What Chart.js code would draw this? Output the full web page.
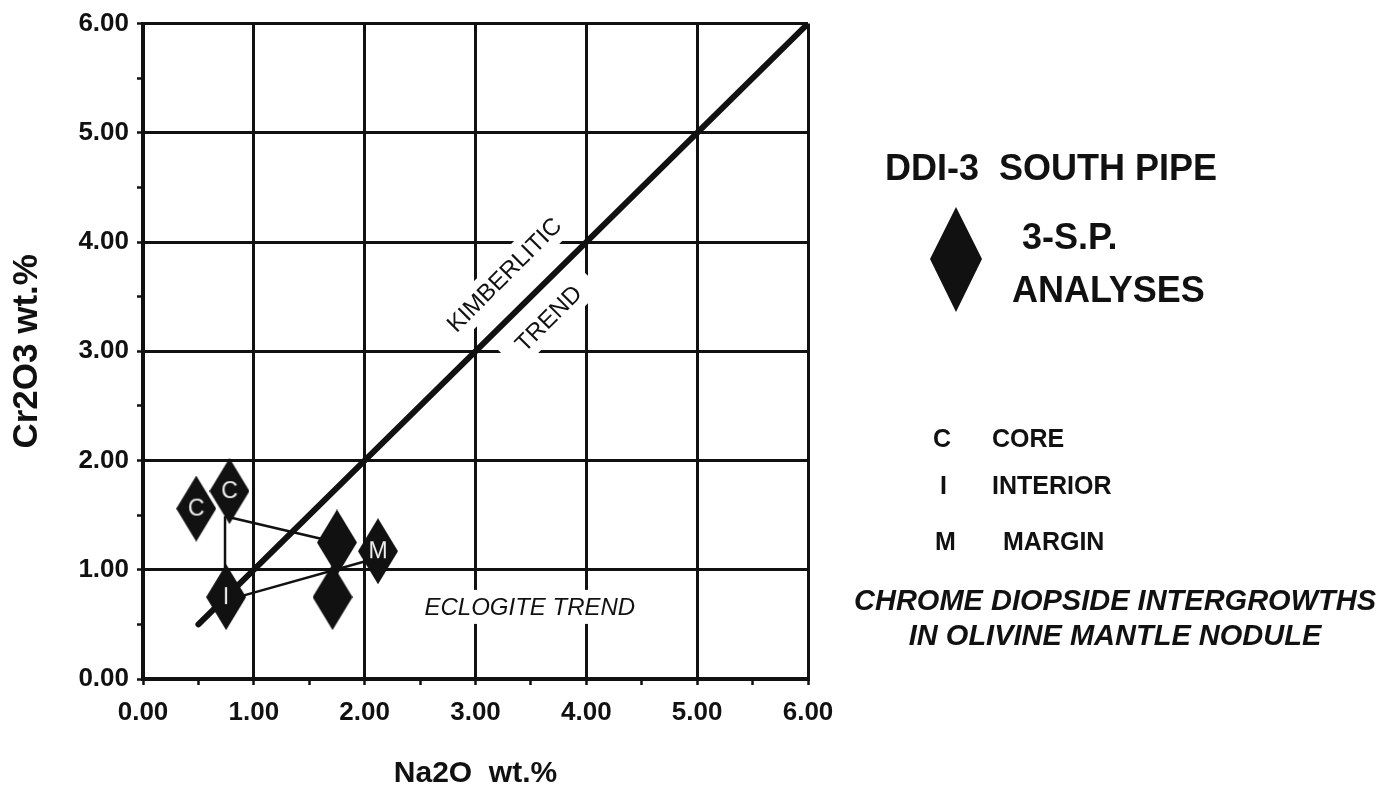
<!DOCTYPE html>
<html><head><meta charset="utf-8">
<script src="https://cdn.jsdelivr.net/npm/chart.js@4.4.1/dist/chart.umd.min.js"></script>
<style>html,body{margin:0;padding:0;background:#fff;}#wrap{width:1398px;height:786px;position:relative;background:#fff}</style>
</head><body><div id="wrap"><canvas id="c" width="1398" height="786"></canvas></div>
<script>
// ---- data ----
const na2o  = [0.48, 0.78, 0.75, 1.75, 2.12, 1.71];
const cr2o3 = [1.56, 1.72, 0.75, 1.25, 1.17, 0.75];
const pointLabels = ['C', 'C', 'I', '', 'M', ''];

const trendX = [0.5, 6.0];
const trendY = [0.5, 6.0];

const tieCIx = [0.74, 0.74];  const tieCIy = [1.49, 0.75];
const tieCBx = [0.74, 1.75];  const tieCBy = [1.49, 1.25];
const tieIMx = [0.75, 2.12];  const tieIMy = [0.72, 1.11];

const xTickLabels = ['0.00','1.00','2.00','3.00','4.00','5.00','6.00'];
const yTickLabels = ['0.00','1.00','2.00','3.00','4.00','5.00','6.00'];

const FONT = '"Liberation Sans", Arial, Helvetica, sans-serif';
const INK = '#111';

function pts(xs, ys){ return xs.map((x,i)=>({x:x, y:ys[i]})); }

function diamond(w, h, label){
  const c = document.createElement('canvas');
  c.width = w; c.height = h;
  const g = c.getContext('2d');
  g.fillStyle = INK;
  g.beginPath();
  g.moveTo(w/2, 0); g.lineTo(w, h/2); g.lineTo(w/2, h); g.lineTo(0, h/2);
  g.closePath(); g.fill();
  if (label){
    g.fillStyle = '#eeeeee';
    g.font = '23px ' + FONT;
    g.textAlign = 'center'; g.textBaseline = 'middle';
    g.fillText(label, w/2, h/2 + 1);
  }
  return c;
}
const pointStyles = pointLabels.map(l => diamond(40, 66, l));

function tickCb(labels){ return v => Number.isInteger(v) ? labels[v] : ''; }
function gridColor(ctx){ return (ctx.tick && Number.isInteger(ctx.tick.value)) ? INK : 'rgba(0,0,0,0)'; }

const annot = {
  id: 'annot',
  beforeDatasetsDraw(chart){
    const ctx = chart.ctx, xs = chart.scales.x, ys = chart.scales.y;
    function rotLabel(text, dx, dy, boxW, boxH, font){
      const px = xs.getPixelForValue(dx), py = ys.getPixelForValue(dy);
      ctx.save();
      ctx.translate(px, py);
      ctx.rotate(-Math.PI/4);
      ctx.fillStyle = '#fff';
      ctx.fillRect(-boxW/2, -boxH/2, boxW, boxH);
      ctx.fillStyle = INK;
      ctx.font = font;
      ctx.textAlign = 'center'; ctx.textBaseline = 'middle';
      ctx.fillText(text, 0, 1);
      ctx.restore();
    }
    rotLabel('KIMBERLITIC', 3.26, 3.70, 172, 34, '24px ' + FONT);
    rotLabel('TREND', 3.66, 3.30, 116, 34, '24px ' + FONT);
    // eclogite trend
    const ex = xs.getPixelForValue(3.49), ey = ys.getPixelForValue(0.66);
    ctx.save();
    ctx.fillStyle = '#fff';
    ctx.fillRect(ex - 118, ey - 17, 236, 34);
    ctx.fillStyle = INK;
    ctx.font = 'italic 24px ' + FONT;
    ctx.textAlign = 'center'; ctx.textBaseline = 'middle';
    ctx.fillText('ECLOGITE TREND', ex, ey + 1);
    ctx.restore();
  },
  afterDraw(chart){
    const ctx = chart.ctx;
    ctx.save();
    ctx.fillStyle = INK;
    ctx.textBaseline = 'alphabetic';
    ctx.textAlign = 'left';
    ctx.font = 'bold 36px ' + FONT;
    ctx.fillText('DDI-3  SOUTH PIPE', 885, 180);
    // legend diamond
    ctx.beginPath();
    ctx.moveTo(956, 207); ctx.lineTo(982, 259); ctx.lineTo(956, 312); ctx.lineTo(930, 259);
    ctx.closePath(); ctx.fill();
    ctx.font = 'bold 36px ' + FONT;
    ctx.fillText('3-S.P.', 1022, 249);
    ctx.fillText('ANALYSES', 1012, 302);
    ctx.font = 'bold 25px ' + FONT;
    ctx.fillText('C', 933, 447);  ctx.fillText('CORE', 992, 447);
    ctx.fillText('I', 940, 494);  ctx.fillText('INTERIOR', 992, 494);
    ctx.fillText('M', 935, 550);  ctx.fillText('MARGIN', 1003, 550);
    ctx.font = 'italic bold 29px ' + FONT;
    ctx.textAlign = 'center';
    ctx.fillText('CHROME DIOPSIDE INTERGROWTHS', 1115, 610);
    ctx.fillText('IN OLIVINE MANTLE NODULE', 1115, 645);
    ctx.restore();
  }
};

new Chart(document.getElementById('c'), {
  type: 'scatter',
  data: {
    datasets: [
      { label: '3-S.P. ANALYSES', data: pts(na2o, cr2o3), pointStyle: pointStyles,
        pointRadius: 20, backgroundColor: INK, borderColor: INK, order: 0 },
      { label: 'tie C-I', data: pts(tieCIx, tieCIy), showLine: true, borderColor: INK,
        borderWidth: 2.5, pointRadius: 0, order: 1 },
      { label: 'tie C-B', data: pts(tieCBx, tieCBy), showLine: true, borderColor: INK,
        borderWidth: 2.5, pointRadius: 0, order: 1 },
      { label: 'tie I-M', data: pts(tieIMx, tieIMy), showLine: true, borderColor: INK,
        borderWidth: 2.5, pointRadius: 0, order: 1 },
      { label: 'Kimberlitic trend', data: pts(trendX, trendY), showLine: true, borderColor: INK,
        borderWidth: 6, borderCapStyle: 'round', pointRadius: 0, order: 2 }
    ]
  },
  options: {
    responsive: false,
    animation: false,
    events: [],
    devicePixelRatio: 1,
    layout: { padding: { left: 0, right: 590, top: 21, bottom: 0 } },
    plugins: { legend: { display: false }, tooltip: { enabled: false } },
    scales: {
      x: {
        type: 'linear', min: 0, max: 6,
        ticks: { stepSize: 0.5, autoSkip: false, maxRotation: 0, padding: 12,
                 callback: tickCb(xTickLabels), color: INK,
                 font: { family: FONT, size: 26, weight: 'bold' } },
        grid: { color: gridColor, lineWidth: 3, tickColor: INK, tickLength: 6, tickWidth: 2.5 },
        border: { color: INK, width: 4 },
        title: { display: true, text: 'Na2O  wt.%', color: INK, padding: { top: 0, bottom: -6 },
                 font: { family: FONT, size: 30, weight: 'bold' } },
        afterFit: s => { s.height = 107; }
      },
      y: {
        type: 'linear', min: 0, max: 6,
        ticks: { stepSize: 0.5, autoSkip: false, padding: 8,
                 callback: tickCb(yTickLabels), color: INK,
                 font: { family: FONT, size: 26, weight: 'bold' } },
        grid: { color: gridColor, lineWidth: 3, tickColor: INK, tickLength: 6, tickWidth: 2.5 },
        border: { color: INK, width: 4 },
        title: { display: true, text: 'Cr2O3 wt.%', color: INK, padding: { top: 6, bottom: 0 },
                 font: { family: FONT, size: 35, weight: 'bold' } },
        afterFit: s => { s.width = 143; }
      }
    }
  },
  plugins: [annot]
});
</script>
</body></html>
